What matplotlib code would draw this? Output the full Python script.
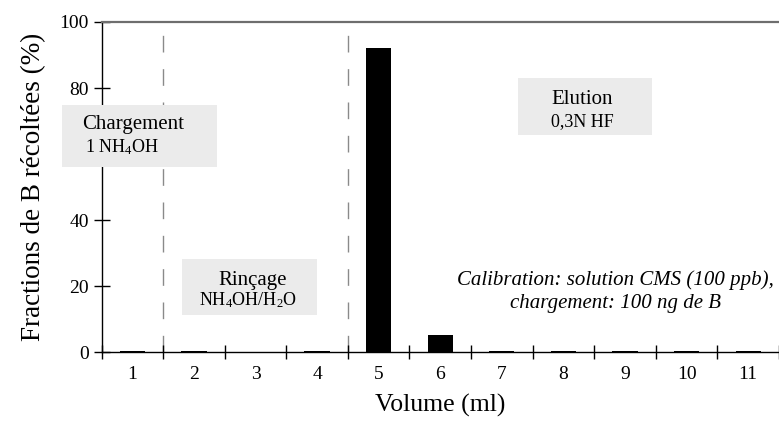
import matplotlib
matplotlib.use("Agg")
import matplotlib.pyplot as plt
from matplotlib.patches import Rectangle

# Data
volumes = [1, 2, 3, 4, 5, 6, 7, 8, 9, 10, 11]
fractions = [0.4, 0.4, 0.0, 0.4, 92.2, 5.3, 0.4, 0.4, 0.4, 0.4, 0.4]
y_ticks = [0, 20, 40, 60, 80, 100]
# the 60 label sits under the "Chargement" box in the original
y_labels = ["0", "20", "40", "", "80", "100"]
phase_limits = [1.5, 4.5]

plt.rcParams["font.family"] = ["Liberation Serif", "DejaVu Serif"]
plt.rcParams["mathtext.fontset"] = "custom"
plt.rcParams["mathtext.rm"] = "Liberation Serif"
plt.rcParams["mathtext.it"] = "Liberation Serif:italic"

fig = plt.figure(figsize=(7.79, 4.23), dpi=100)
ax = fig.add_axes([0.1303, 0.1678, 0.8697, 0.7802])

ax.bar(volumes, fractions, width=0.41, color="black", zorder=2)

for xl in phase_limits:
    ax.axvline(xl, color="#8a8a8a", lw=1.0, linestyle=(0, (12, 12)), zorder=1)

ax.set_xlim(0.5, 11.5)
ax.set_ylim(0, 100)

# ticks at category boundaries, labels at centers
ax.set_xticks([v + 0.5 for v in [0] + volumes])
ax.set_xticklabels([])
ax.set_xticks(volumes, minor=True)
ax.set_xticklabels([str(v) for v in volumes], minor=True, fontsize=14)
ax.tick_params(axis="x", which="minor", length=0, pad=10)
ax.tick_params(axis="x", which="major", direction="inout", length=10, width=1)
ax.set_yticks(y_ticks)
ax.set_yticklabels(y_labels, fontsize=14)
ax.tick_params(axis="y", direction="inout", length=12, width=1, pad=3)

ax.spines["right"].set_visible(False)
ax.spines["top"].set_color("#6e6e6e")
ax.spines["top"].set_linewidth(1.6)
ax.spines["left"].set_linewidth(1.0)
ax.spines["bottom"].set_linewidth(1.0)

ax.set_xlabel("Volume (ml)", fontsize=18.5, labelpad=8)
ax.set_ylabel("Fractions de B récoltées (%)", fontsize=19.5, labelpad=10)

box_color = "#ebebeb"
boxes = [
    (-0.141, 56.1, 2.516, 18.7),
    (1.807, 11.2, 2.193, 17.0),
    (7.26, 65.8, 2.18, 17.2),
]
for x0, y0, w, h in boxes:
    ax.add_patch(Rectangle((x0, y0), w, h, facecolor=box_color,
                           edgecolor="none", zorder=5, clip_on=False))

ax.text(1.01, 68.8, "Chargement", fontsize=15, ha="center", va="center", zorder=6)
ax.text(0.83, 62.1, r"1 NH$_4$OH", fontsize=13, ha="center", va="center", zorder=6)
ax.text(2.96, 21.8, "Rinçage", fontsize=15, ha="center", va="center", zorder=6)
ax.text(2.88, 15.6, r"NH$_4$OH/H$_2$O", fontsize=13, ha="center", va="center", zorder=6)
ax.text(8.3, 76.4, "Elution", fontsize=15, ha="center", va="center", zorder=6)
ax.text(8.3, 69.7, "0,3N HF", fontsize=13, ha="center", va="center", zorder=6)

ax.text(8.85, 18.2, "Calibration: solution CMS (100 ppb),\nchargement: 100 ng de B",
        fontsize=15, style="italic", ha="center", va="center",
        linespacing=1.3, zorder=6)

fig.savefig("out.png", dpi=100)
